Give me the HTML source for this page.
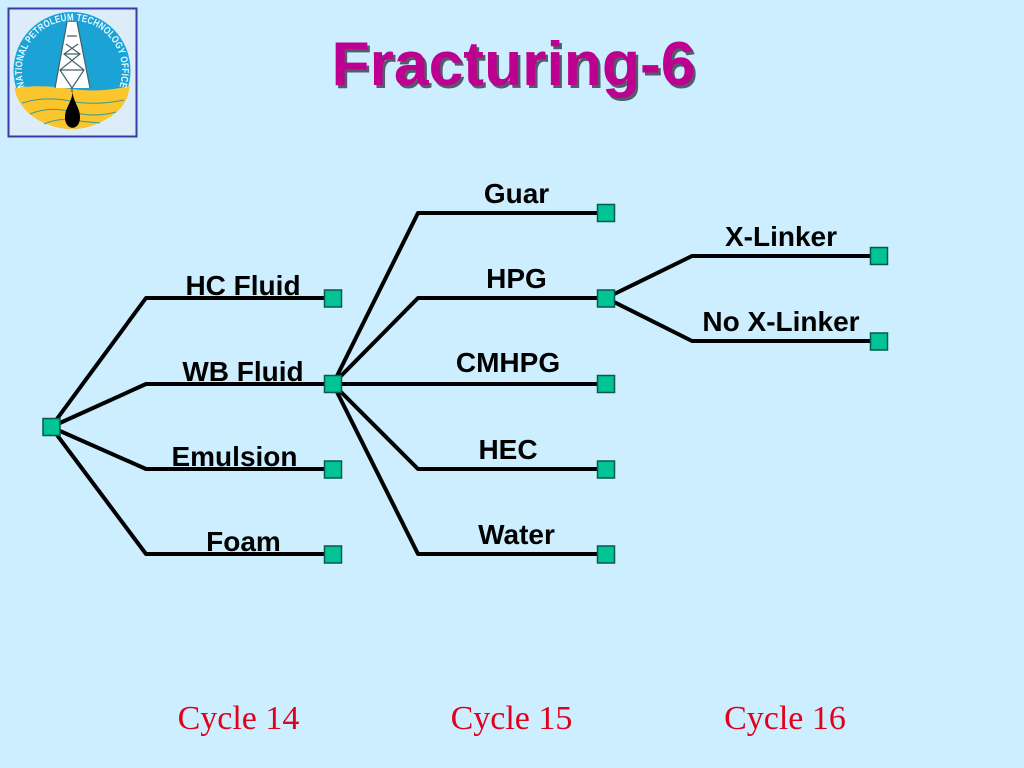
<!DOCTYPE html>
<html><head><meta charset="utf-8"><style>
html,body{margin:0;padding:0;background:#cceeff;width:1024px;height:768px;overflow:hidden}
svg{display:block}
.l{font:bold 28px "Liberation Sans",sans-serif;fill:#000;text-anchor:middle}
.c{font:34px "Liberation Serif",serif;fill:#e2001c;text-anchor:middle}
.r text{font:bold 10px "Liberation Sans",sans-serif;fill:#e8f8ff;text-anchor:middle}
</style></head><body>
<svg width="1024" height="768" viewBox="0 0 1024 768" xmlns="http://www.w3.org/2000/svg">
<rect width="1024" height="768" fill="#cceeff"/>
<!-- logo -->
<rect x="8.500" y="8.500" width="128" height="128" fill="#dcedf9" stroke="#3a3aa8" stroke-width="2"/>
<circle cx="72" cy="70.500" r="58.500" fill="#1ba3d6"/>
<path d="M14.500 88 Q40 84 72 89 Q100 93 129.500 86 Q128 106 110 117 Q92 129 72 129 Q50 129 32 116 Q17 104 14.500 88Z" fill="#fbc52e"/>
<path d="M22 103Q45 96 70 101T124 100M30 114Q50 106 72 112T116 112M44 124Q58 118 72 120T100 123" fill="none" stroke="#3f9c8c" stroke-width="1"/>
<path d="M67 22H77L90 88H55Z" fill="#fff"/>
<path d="M67 22L55 88M77 22L90 88M67 36H77M66 44L80 54L60 70L72 88M78 44L64 54L84 70L72 88M64 54H80M60 70H84M72 88V92" fill="none" stroke="#44606a" stroke-width="1.200"/>
<path d="M72.500 91C72.500 102 64.500 108 65 118C65.500 131 79.500 131 80 118C80.500 108 73 102 72.500 91Z" fill="#000"/>
<g class="r">
<text transform="rotate(-105.6 72 70.5) translate(72 20.5) scale(.8 1)">N</text>
<text transform="rotate(-98.7 72 70.5) translate(72 20.5) scale(.8 1)">A</text>
<text transform="rotate(-92.4 72 70.5) translate(72 20.5) scale(.8 1)">T</text>
<text transform="rotate(-88.2 72 70.5) translate(72 20.5) scale(.8 1)">I</text>
<text transform="rotate(-83.2 72 70.5) translate(72 20.5) scale(.8 1)">O</text>
<text transform="rotate(-76.1 72 70.5) translate(72 20.5) scale(.8 1)">N</text>
<text transform="rotate(-69.2 72 70.5) translate(72 20.5) scale(.8 1)">A</text>
<text transform="rotate(-62.9 72 70.5) translate(72 20.5) scale(.8 1)">L</text>
<text transform="rotate(-54.2 72 70.5) translate(72 20.5) scale(.8 1)">P</text>
<text transform="rotate(-47.9 72 70.5) translate(72 20.5) scale(.8 1)">E</text>
<text transform="rotate(-41.9 72 70.5) translate(72 20.5) scale(.8 1)">T</text>
<text transform="rotate(-35.5 72 70.5) translate(72 20.5) scale(.8 1)">R</text>
<text transform="rotate(-28.4 72 70.5) translate(72 20.5) scale(.8 1)">O</text>
<text transform="rotate(-21.8 72 70.5) translate(72 20.5) scale(.8 1)">L</text>
<text transform="rotate(-15.8 72 70.5) translate(72 20.5) scale(.8 1)">E</text>
<text transform="rotate(-9.2 72 70.5) translate(72 20.5) scale(.8 1)">U</text>
<text transform="rotate(-1.8 72 70.5) translate(72 20.5) scale(.8 1)">M</text>
<text transform="rotate(7.7 72 70.5) translate(72 20.5) scale(.8 1)">T</text>
<text transform="rotate(13.7 72 70.5) translate(72 20.5) scale(.8 1)">E</text>
<text transform="rotate(20.3 72 70.5) translate(72 20.5) scale(.8 1)">C</text>
<text transform="rotate(27.1 72 70.5) translate(72 20.5) scale(.8 1)">H</text>
<text transform="rotate(34 72 70.5) translate(72 20.5) scale(.8 1)">N</text>
<text transform="rotate(41.1 72 70.5) translate(72 20.5) scale(.8 1)">O</text>
<text transform="rotate(47.7 72 70.5) translate(72 20.5) scale(.8 1)">L</text>
<text transform="rotate(54.3 72 70.5) translate(72 20.5) scale(.8 1)">O</text>
<text transform="rotate(61.6 72 70.5) translate(72 20.5) scale(.8 1)">G</text>
<text transform="rotate(68.5 72 70.5) translate(72 20.5) scale(.8 1)">Y</text>
<text transform="rotate(78 72 70.5) translate(72 20.5) scale(.8 1)">O</text>
<text transform="rotate(84.6 72 70.5) translate(72 20.5) scale(.8 1)">F</text>
<text transform="rotate(90.3 72 70.5) translate(72 20.5) scale(.8 1)">F</text>
<text transform="rotate(94.6 72 70.5) translate(72 20.5) scale(.8 1)">I</text>
<text transform="rotate(99.3 72 70.5) translate(72 20.5) scale(.8 1)">C</text>
<text transform="rotate(105.9 72 70.5) translate(72 20.5) scale(.8 1)">E</text>
</g>
<!-- title -->
<text x="516" y="88" font-family="Liberation Sans, sans-serif" font-weight="bold" font-size="62.400" text-anchor="middle" fill="#2c2c3a" opacity=".75">Fracturing-6</text>
<text x="513.500" y="85" font-family="Liberation Sans, sans-serif" font-weight="bold" font-size="62.400" text-anchor="middle" fill="#bd0090">Fracturing-6</text>
<!-- lines -->
<g fill="none" stroke="#000" stroke-width="4" stroke-linecap="round" stroke-linejoin="round">
<path d="M51 427L146 298H333M51 427L146 384H333M51 427L146 469H333M51 427L146 554H333"/>
<path d="M333 384L418 213H606M333 384L418 298H606M333 384H606M333 384L418 469H606M333 384L418 554H606"/>
<path d="M606 298L692 256H879M606 298L692 341H879"/>
</g>
<!-- nodes -->
<g fill="#00c496" stroke="#0a5a4a" stroke-width="1.500">
<rect x="43" y="418.500" width="17" height="17"/>
<rect x="324.500" y="290" width="17" height="17"/><rect x="324.500" y="375.500" width="17" height="17"/>
<rect x="324.500" y="461" width="17" height="17"/><rect x="324.500" y="546" width="17" height="17"/>
<rect x="597.500" y="204.500" width="17" height="17"/><rect x="597.500" y="290" width="17" height="17"/>
<rect x="597.500" y="375.500" width="17" height="17"/><rect x="597.500" y="461" width="17" height="17"/>
<rect x="597.500" y="546" width="17" height="17"/>
<rect x="870.500" y="247.500" width="17" height="17"/><rect x="870.500" y="333" width="17" height="17"/>
</g>
<!-- labels -->
<text class="l" x="243" y="295">HC Fluid</text>
<text class="l" x="243" y="381">WB Fluid</text>
<text class="l" x="234.500" y="466">Emulsion</text>
<text class="l" x="243.500" y="551">Foam</text>
<text class="l" x="516.500" y="203">Guar</text>
<text class="l" x="516.500" y="288">HPG</text>
<text class="l" x="508" y="372">CMHPG</text>
<text class="l" x="508" y="459">HEC</text>
<text class="l" x="516.500" y="544">Water</text>
<text class="l" x="781" y="246">X-Linker</text>
<text class="l" x="781" y="331">No X-Linker</text>
<text class="c" x="238.500" y="729">Cycle 14</text>
<text class="c" x="511.500" y="729">Cycle 15</text>
<text class="c" x="785" y="729">Cycle 16</text>
</svg>
</body></html>
